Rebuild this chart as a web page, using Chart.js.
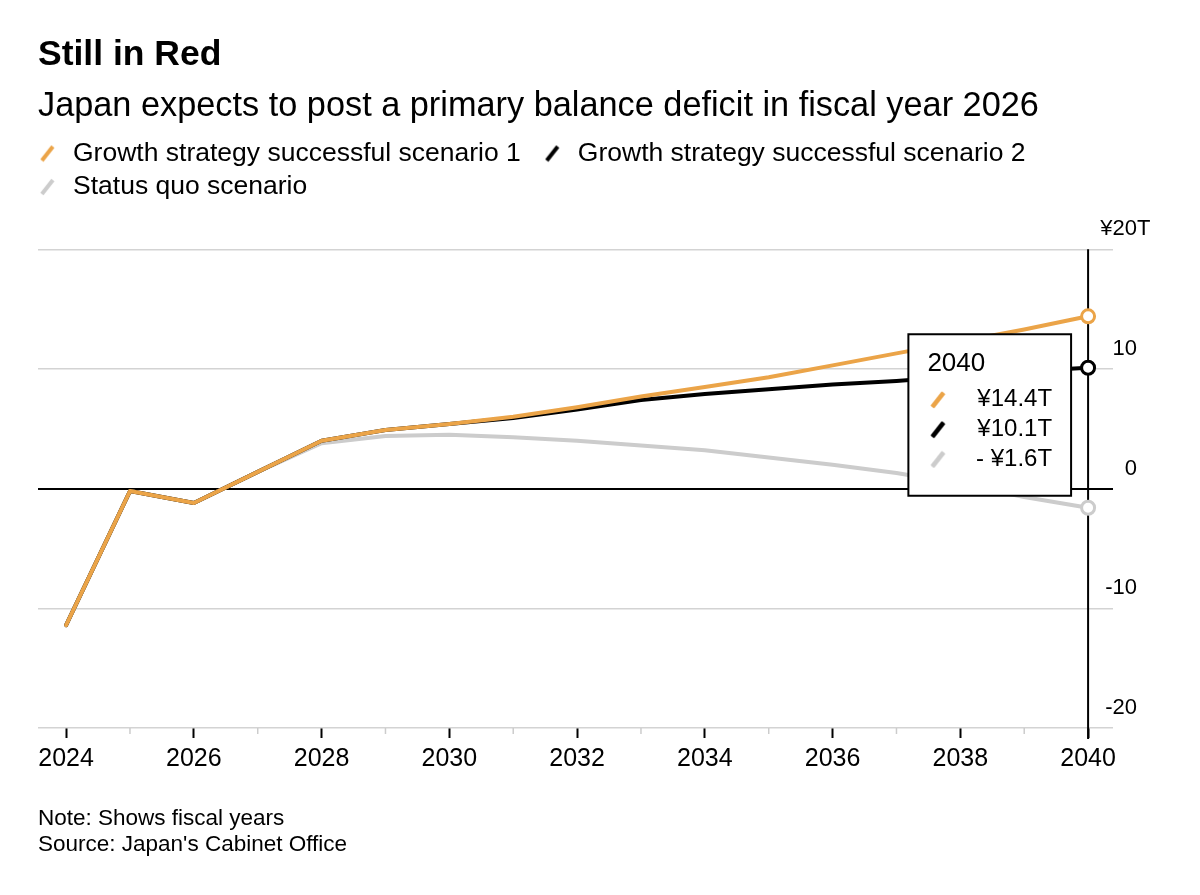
<!DOCTYPE html>
<html>
<head>
<meta charset="utf-8">
<title>Still in Red</title>
<script src="https://cdn.jsdelivr.net/npm/chart.js@4/dist/chart.umd.min.js"></script>
<style>
  body { margin: 0; background: #fff; }
  #wrap { position: relative; width: 1200px; height: 895px; }
  #notes {
    position: absolute; left: 38px; top: 805px;
    font: 22.5px/26px "Liberation Sans", Arial, sans-serif; color: #000;
  }
</style>
</head>
<body>
<div id="wrap">
  <canvas id="chart" width="1200" height="895"></canvas>
  <div id="notes">Note: Shows fiscal years<br>Source: Japan's Cabinet Office</div>
</div>
<script>
// fiscal years and primary balance (trillion yen)
const years = [2024, 2025, 2026, 2027, 2028, 2029, 2030, 2031, 2032, 2033, 2034, 2035, 2036, 2037, 2038, 2039, 2040];
const scenario1 = [-11.4, -0.2, -1.2, 1.4, 4.0, 4.9, 5.4, 6.0, 6.8, 7.7, 8.5, 9.3, 10.3, 11.3, 12.3, 13.3, 14.4];
const scenario2 = [-11.4, -0.2, -1.2, 1.4, 4.0, 4.9, 5.4, 5.9, 6.6, 7.4, 7.9, 8.3, 8.7, 9.0, 9.4, 9.8, 10.1];
const statusQuo = [-11.4, -0.2, -1.2, 1.4, 3.8, 4.4, 4.5, 4.3, 4.0, 3.6, 3.2, 2.6, 2.0, 1.3, 0.4, -0.7, -1.6];

const seriesNames = ["Growth strategy successful scenario 1", "Growth strategy successful scenario 2", "Status quo scenario"];
const seriesColors = ["#eba448", "#000000", "#cccccc"];
const xTickYears = [2024, 2026, 2028, 2030, 2032, 2034, 2036, 2038, 2040];
const xMinorYears = [2025, 2027, 2029, 2031, 2033, 2035, 2037, 2039];
const yTickValues = [-20, -10, 0, 10, 20];

const FONT = '"Liberation Sans", Arial, sans-serif';
Chart.defaults.font.family = FONT;
Chart.defaults.color = "#000";

// little slanted line used as key in legend and tooltip
function makeIcon(color, w, h, x0) {
  const c = document.createElement("canvas");
  c.width = w;
  c.height = h;
  const g = c.getContext("2d");
  g.strokeStyle = color;
  g.lineWidth = 4;
  g.beginPath();
  g.moveTo(x0 + 2, h - 2);
  g.lineTo(x0 + 13, 2);
  g.stroke();
  return c;
}
const legendIcons = seriesColors.map((c) => makeIcon(c, 25, 18, 0));
const tooltipIcons = seriesColors.map((c) => makeIcon(c, 20, 18, 3));

function fmt(v) {
  return (v < 0 ? "- ¥" : "¥") + Math.abs(v).toFixed(1) + "T";
}

Chart.Tooltip.positioners.fixedBox = function () {
  const chart = this.chart;
  return {
    x: chart.scales.x.getPixelForValue(years[years.length - 1]) - 17,
    y: chart.chartArea.top + 85,
    xAlign: "right",
    yAlign: "top",
  };
};

const legendMargin = {
  id: "legendMargin",
  beforeInit(chart) {
    const fit = chart.legend.fit;
    chart.legend.fit = function () {
      fit.bind(chart.legend)();
      this.height += 39;
    };
  },
};

const extras = {
  id: "extras",
  beforeDatasetsDraw(chart) {
    const { ctx, chartArea } = chart;
    const xs = chart.scales.x;
    ctx.save();
    // minor ticks on odd years
    ctx.strokeStyle = "#cccccc";
    ctx.lineWidth = 1.5;
    xMinorYears.forEach((yr) => {
      const x = xs.getPixelForValue(yr);
      ctx.beginPath();
      ctx.moveTo(x, chartArea.bottom);
      ctx.lineTo(x, chartArea.bottom + 6);
      ctx.stroke();
    });
    // hover line at the last year
    const xl = xs.getPixelForValue(years[years.length - 1]);
    ctx.strokeStyle = "#000";
    ctx.lineWidth = 2;
    ctx.beginPath();
    ctx.moveTo(xl, chartArea.top);
    ctx.lineTo(xl, chartArea.bottom + 11);
    ctx.stroke();
    ctx.restore();
  },
  afterDraw(chart) {
    const ctx = chart.ctx;
    const ys = chart.scales.y;
    const right = chart.chartArea.right + 24;
    ctx.save();
    ctx.font = "22px " + FONT;
    ctx.fillStyle = "#000";
    ctx.textBaseline = "middle";
    yTickValues.forEach((v) => {
      const y = ys.getPixelForValue(v) - 20;
      ctx.textAlign = "right";
      if (v === ys.max) {
        ctx.fillText("¥" + v, right, y);
        ctx.textAlign = "left";
        ctx.fillText("T", right, y);
      } else {
        ctx.fillText(String(v), right, y);
      }
    });
    ctx.restore();
  },
};

const lastIdx = years.length - 1;
const endPoint = (ctx) => (ctx.dataIndex === lastIdx ? 6.5 : 0);

const data = {
  labels: years,
  datasets: [
    {
      label: seriesNames[0],
      data: scenario1,
      borderColor: seriesColors[0],
      pointBorderColor: seriesColors[0],
    },
    {
      label: seriesNames[1],
      data: scenario2,
      borderColor: seriesColors[1],
      pointBorderColor: seriesColors[1],
    },
    {
      label: seriesNames[2],
      data: statusQuo,
      borderColor: seriesColors[2],
      pointBorderColor: seriesColors[2],
    },
  ],
};
data.datasets.forEach((ds) => {
  ds.backgroundColor = "#fff";
  ds.borderWidth = 4;
  ds.borderCapStyle = "round";
  ds.borderJoinStyle = "round";
  ds.tension = 0;
  ds.pointRadius = endPoint;
  ds.pointHoverRadius = endPoint;
  ds.pointBorderWidth = 3;
  ds.pointHoverBorderWidth = 3;
  ds.pointBackgroundColor = "#fff";
});

const config = {
  type: "line",
  data: data,
  plugins: [legendMargin, extras],
  options: {
    responsive: false,
    devicePixelRatio: 1,
    animation: false,
    events: [],
    layout: { padding: { top: 0, left: 38, right: 87, bottom: 115 } },
    scales: {
      x: {
        type: "linear",
        min: 2023.56,
        max: 2040.39,
        afterBuildTicks: (s) => {
          s.ticks = xTickYears.map((v) => ({ value: v }));
        },
        ticks: {
          callback: (v) => String(v),
          font: { size: 25 },
          color: "#000",
          padding: 6,
          maxRotation: 0,
          autoSkip: false,
        },
        grid: {
          drawOnChartArea: false,
          tickLength: 10,
          tickColor: "#000",
          tickWidth: 2,
        },
        border: { display: false },
      },
      y: {
        position: "right",
        min: -20,
        max: 20,
        ticks: { display: false, stepSize: 10 },
        grid: {
          drawTicks: false,
          color: (c) => (c.tick.value === 0 ? "#000" : "#d3d3d3"),
          lineWidth: (c) => (c.tick.value === 0 ? 2 : 1.5),
        },
        border: { display: false },
      },
    },
    plugins: {
      title: {
        display: true,
        text: "Still in Red",
        align: "start",
        color: "#000",
        font: { size: 35.5, weight: "bold" },
        padding: { top: 34, bottom: 5 },
      },
      subtitle: {
        display: true,
        text: "Japan expects to post a primary balance deficit in fiscal year 2026",
        align: "start",
        color: "#000",
        font: { size: 34.3 },
        padding: { top: 4, bottom: 6.5 },
      },
      legend: {
        position: "top",
        align: "start",
        labels: {
          usePointStyle: true,
          pointStyleWidth: 14.75,
          padding: 7,
          color: "#000",
          font: { size: 26.5 },
          generateLabels: (chart) =>
            Chart.defaults.plugins.legend.labels.generateLabels(chart).map((item, i) =>
              Object.assign(item, {
                text: item.text + (i === 0 ? "   " : ""),
                pointStyle: legendIcons[i],
              })
            ),
        },
      },
      tooltip: {
        enabled: true,
        position: "fixedBox",
        xAlign: "right",
        yAlign: "top",
        backgroundColor: "#fff",
        borderColor: "#000",
        borderWidth: 2,
        cornerRadius: 0,
        caretSize: 0,
        caretPadding: 0,
        titleColor: "#000",
        bodyColor: "#000",
        titleFont: { size: 26, weight: "normal" },
        bodyFont: { size: 24 },
        titleMarginBottom: 6,
        bodySpacing: 1,
        padding: { top: 14, bottom: 22, left: 19, right: 19 },
        bodyAlign: "right",
        usePointStyle: true,
        boxWidth: 20,
        boxHeight: 20,
        callbacks: {
          title: (items) => String(items[0].parsed.x),
          label: (c) => "    " + fmt(c.parsed.y),
          labelPointStyle: (c) => ({ pointStyle: tooltipIcons[c.datasetIndex], rotation: 0 }),
        },
      },
    },
  },
};

const chart = new Chart(document.getElementById("chart"), config);
chart.tooltip.setActiveElements(
  [0, 1, 2].map((i) => ({ datasetIndex: i, index: lastIdx })),
  { x: 0, y: 0 }
);
chart.update();
</script>
</body>
</html>
